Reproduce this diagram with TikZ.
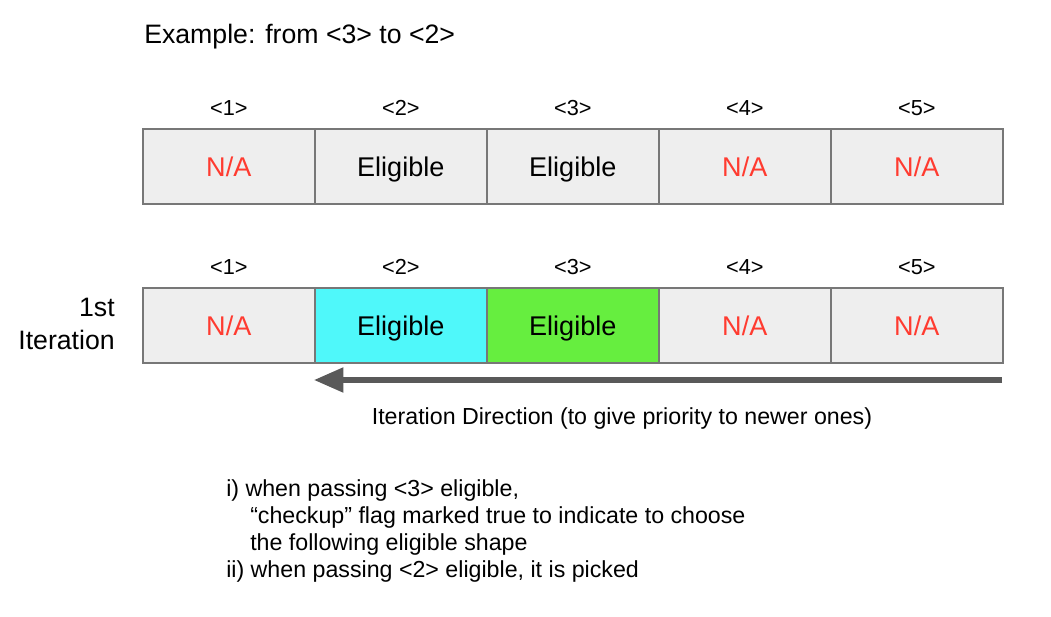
\documentclass[tikz,border=0pt]{standalone}
\usepackage{fontspec}
\setmainfont{Liberation Sans}
\usetikzlibrary{arrows.meta,calc}
\definecolor{cellgray}{HTML}{EEEEEE}
\definecolor{cellborder}{HTML}{777777}
\definecolor{nared}{HTML}{FF3B30}
\definecolor{cyanfill}{HTML}{4FF8FA}
\definecolor{greenfill}{HTML}{66EE3F}
\definecolor{arrowgray}{HTML}{595959}
\tikzset{
  cell/.style={draw=cellborder, line width=1.2pt, fill=cellgray, minimum width=129pt, minimum height=56.5pt, inner sep=0pt, font=\fontsize{20.3}{22}\selectfont, text height=14.5pt, text depth=0pt, anchor=north west},
  na/.style={text=nared},
  idx/.style={font=\fontsize{16.3}{18}\selectfont},
  note/.style={font=\fontsize{17.4}{19}\selectfont, anchor=west, inner sep=0pt},
}
\begin{document}
\begin{tikzpicture}[x=0.75pt, y=-0.75pt]
\useasboundingbox (0,0) rectangle (1051,617);
\node[font=\fontsize{20}{22}\selectfont, anchor=west, inner sep=0pt] (title) at (144,37) {Example: from <3> to <2>};
% row 1
\node[cell, na] (a1) at (142,128) {N/A};
\node[cell] (a2) at (314,128) {Eligible};
\node[cell] (a3) at (486,128) {Eligible};
\node[cell, na] (a4) at (658,128) {N/A};
\node[cell, na] (a5) at (830,128) {N/A};
\foreach \i in {1,...,5} { \node[idx] (la\i) at ($(a\i.north)+(0,-20)$) {<\i>}; }
% row 2
\node[cell, na] (b1) at (142,287) {N/A};
\node[cell, fill=cyanfill] (b2) at (314,287) {Eligible};
\node[cell, fill=greenfill] (b3) at (486,287) {Eligible};
\node[cell, na] (b4) at (658,287) {N/A};
\node[cell, na] (b5) at (830,287) {N/A};
\foreach \i in {1,...,5} { \node[idx] (lb\i) at ($(b\i.north)+(0,-20)$) {<\i>}; }
\node[font=\fontsize{20}{25}\selectfont, align=right, anchor=east, inner sep=0pt] (iter) at (115,324) {1st\\Iteration};
% arrow
\coordinate (arrS) at (1002,380);
\coordinate (arrE) at (314,380);
\draw[arrowgray, line width=3.8pt, -{Triangle[length=22pt,width=18pt]}] (arrS) -- (arrE);
\node[font=\fontsize{17.4}{19}\selectfont] (dir) at (622,418) {Iteration Direction (to give priority to newer ones)};
% notes
\node[note] (n1) at (226,490) {i) when passing <3> eligible,};
\node[note] (n2) at (250,517) {“checkup” flag marked true to indicate to choose};
\node[note] (n3) at (250,544) {the following eligible shape};
\node[note] (n4) at (226,571) {ii) when passing <2> eligible, it is picked};
\end{tikzpicture}
\end{document}
